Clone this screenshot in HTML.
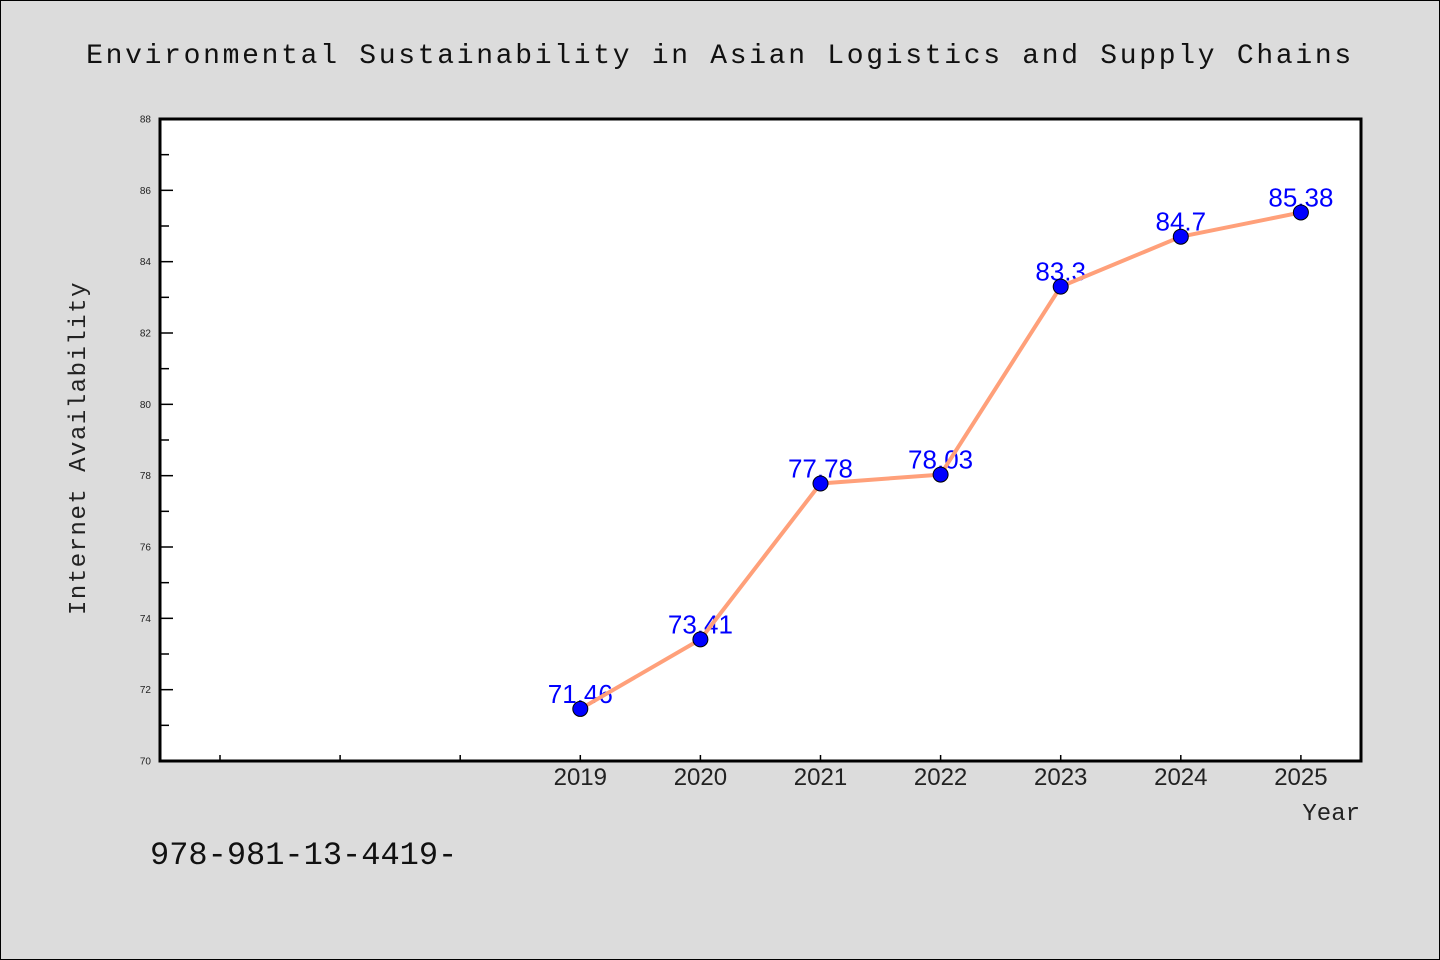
<!DOCTYPE html>
<html><head><meta charset="utf-8"><style>
html,body{margin:0;padding:0;}
body{width:1440px;height:960px;background:#dcdcdc;overflow:hidden;}
svg{display:block;}
</style></head><body>
<svg width="1440" height="960" xmlns="http://www.w3.org/2000/svg">
<rect x="0.5" y="0.5" width="1439" height="959" fill="#dcdcdc" stroke="#000"/>
<text x="720" y="63" text-anchor="middle" font-family="Liberation Mono, monospace" font-size="28" letter-spacing="2.7" fill="#111">Environmental Sustainability in Asian Logistics and Supply Chains</text>
<rect x="160" y="119" width="1201" height="642" fill="#fff"/>
<g id="yticks"></g><g id="xticks"></g>
<rect x="160" y="119" width="1201" height="642" fill="none" stroke="#000" stroke-width="3"/>
<g id="labels"></g><g id="series"></g>
<text transform="translate(85,448) rotate(-90)" text-anchor="middle" font-family="Liberation Mono, monospace" font-size="24" letter-spacing="1.5" fill="#222">Internet Availability</text>
<text x="1360" y="820" text-anchor="end" font-family="Liberation Mono, monospace" font-size="24" fill="#222">Year</text>
<text x="150" y="864" font-family="Liberation Mono, monospace" font-size="32" fill="#111">978-981-13-4419-</text>
</svg>
<script>
const categories=["","","","2019","2020","2021","2022","2023","2024","2025"];
const values=[null,null,null,71.46,73.41,77.78,78.03,83.3,84.7,85.38];
const valueLabels=["","","","71.46","73.41","77.78","78.03","83.3","84.7","85.38"];
const yTicks=[70,72,74,76,78,80,82,84,86,88];
const NS="http://www.w3.org/2000/svg";
const x0=160,x1=1361,y0=761,y1=119,yMin=70,yMax=88;
const xs=i=>220+i*(x1-x0-1)/categories.length*1.0;
function X(i){return 220+i*120*(1201/1200);}
function Y(v){return y0-(v-yMin)/(yMax-yMin)*(y0-y1);}
function mk(tag,attrs,parent){const e=document.createElementNS(NS,tag);for(const k in attrs)e.setAttribute(k,attrs[k]);document.getElementById(parent).appendChild(e);return e;}
yTicks.forEach((t,i)=>{
 const y=Y(t);
 const l=mk('line',{x1:160,x2:173,y1:y,y2:y,stroke:'#000','stroke-width':1.5},'yticks');
 
 
 const tx=mk('text',{x:151,y:y+3.5,'text-anchor':'end','font-family':'Liberation Sans, sans-serif','font-size':10,fill:'#222'},'yticks');
 tx.textContent=t;
 
 
 if(i<yTicks.length-1){const ym=Y(t+1);
  const m=mk('line',{x1:160,x2:169,y1:ym,y2:ym,stroke:'#000','stroke-width':1.5},'yticks');
  
  }
});
categories.forEach((c,i)=>{
 const x=X(i);
 const l=mk('line',{x1:x,x2:x,y1:761,y2:755,stroke:'#000','stroke-width':1.5},'xticks');
 
 
 const tx=mk('text',{x:x,y:785,'text-anchor':'middle','font-family':'Liberation Sans, sans-serif','font-size':24,fill:'#222'},'xticks');
 tx.textContent=c;
 
 
});
values.forEach((v,i)=>{
 if(v===null)return;
 const t=mk('text',{x:X(i),y:Y(v)-6,'text-anchor':'middle','font-family':'Liberation Sans, sans-serif','font-size':26,fill:'#0000ff'},'labels');
 t.textContent=valueLabels[i];
 
 
});
const pts=values.map((v,i)=>v===null?null:X(i)+','+Y(v)).filter(p=>p);
const pl=mk('polyline',{points:pts.join(' '),fill:'none',stroke:'#ffa07a','stroke-width':4,'stroke-linejoin':'round'},'series');


values.forEach((v,i)=>{
 if(v===null)return;
 const c=mk('circle',{cx:X(i),cy:Y(v),r:7.5,fill:'#0000ff',stroke:'#000','stroke-width':1},'series');
 
 
});
</script>
</body></html>
